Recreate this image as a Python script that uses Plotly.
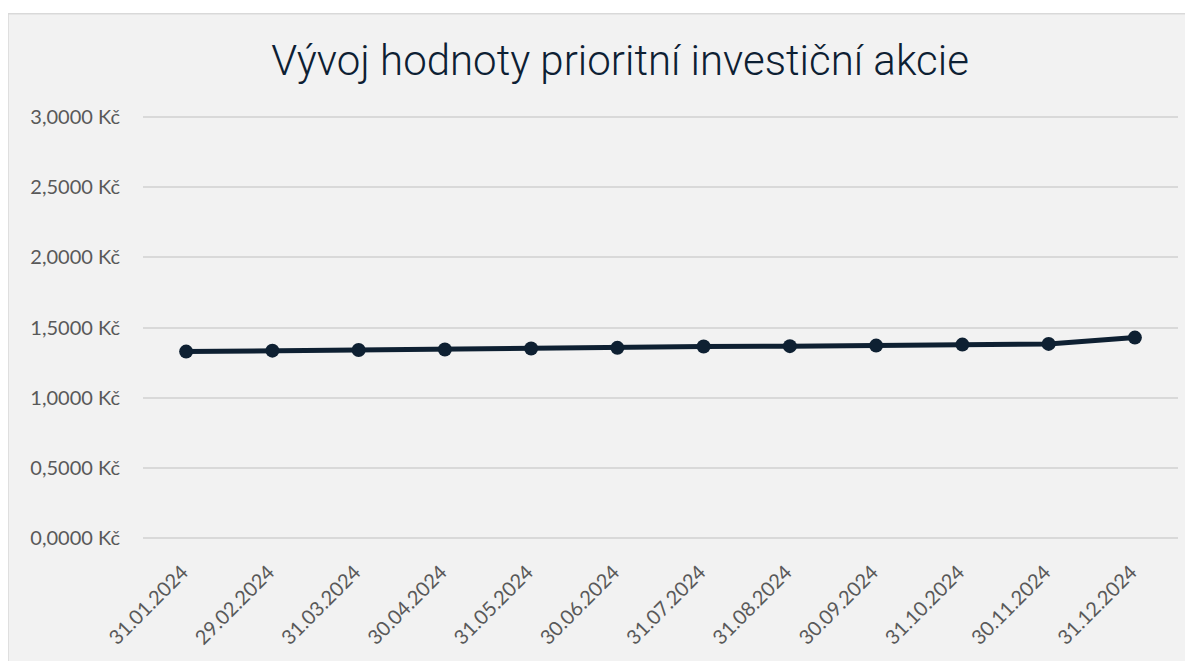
import plotly.graph_objects as go

dates = ["31.01.2024", "29.02.2024", "31.03.2024", "30.04.2024", "31.05.2024", "30.06.2024",
         "31.07.2024", "31.08.2024", "30.09.2024", "31.10.2024", "30.11.2024", "31.12.2024"]
values = [1.328, 1.335, 1.340, 1.343, 1.350, 1.355, 1.364, 1.367, 1.371, 1.378, 1.383, 1.428]
y_ticks = [0, 0.5, 1.0, 1.5, 2.0, 2.5, 3.0]
y_labels = ["0,0000 Kč", "0,5000 Kč", "1,0000 Kč", "1,5000 Kč", "2,0000 Kč", "2,5000 Kč", "3,0000 Kč"]
title = "Vývoj hodnoty prioritní investiční akcie"

OFF = 8  # browser body margin
PAD = 0.03  # value padding so edge gridlines are drawn
unit = (540 - 117) / 3.0  # px per value unit
W, H = 1193 - OFF, 661 - OFF
L, R = 143 - OFF, 1178 - OFF
T, B = 117 - OFF - PAD * unit, 540 - OFF + PAD * unit
pw, ph = R - L, B - T

def px(x):
    return (x - OFF - L) / pw

def py(y):
    return (B - (y - OFF)) / ph

fig = go.Figure()
fig.add_trace(go.Scatter(
    x=list(range(len(dates))), y=values, mode="lines+markers",
    line=dict(color="#0e2032", width=5),
    marker=dict(color="#0e2032", size=14),
    hoverinfo="skip", showlegend=False,
))

fig.update_layout(
    width=W, height=H,
    margin=dict(l=L, r=W - R, t=T, b=H - B),
    paper_bgcolor="white", plot_bgcolor="rgba(0,0,0,0)",
    title=dict(text=title, x=(620 - OFF) / W, xanchor="center", y=1 - (60 - OFF) / H, yanchor="middle",
               font=dict(family="Roboto", size=42, color="#0d2033", weight=300)),
    xaxis=dict(range=[-0.5, len(dates) - 0.5], tickmode="array",
               tickvals=list(range(len(dates))), ticktext=[d + "\u00a0" for d in dates], tickangle=-45,
               showgrid=False, zeroline=False, showline=False, ticks="",
               ticklabelstandoff=10,
               tickfont=dict(family="Lato", size=20, color="#595959")),
    yaxis=dict(range=[-PAD, 3 + PAD], tickmode="array", tickvals=y_ticks, ticktext=y_labels,
               showgrid=True, gridcolor="#d9d9d9", gridwidth=1.5, zeroline=False,
               showline=False, ticks="", ticklabelstandoff=22,
               tickfont=dict(family="Lato", size=20, color="#595959")),
    shapes=[dict(type="rect", xref="paper", yref="paper", layer="below",
                 x0=px(8), x1=px(1200), y0=py(670), y1=py(13),
                 fillcolor="#f2f2f2", line=dict(color="#d9d9d9", width=1.5))],
)

fig.write_html("out.html")
